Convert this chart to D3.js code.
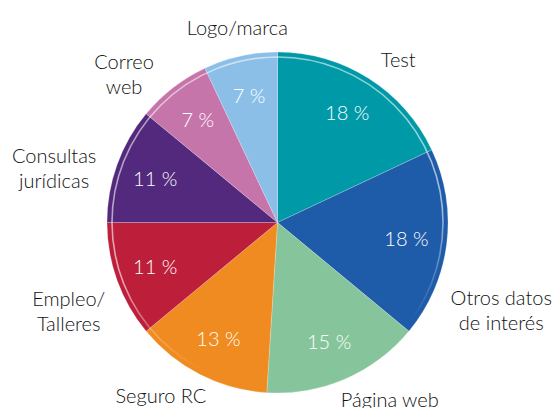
<!DOCTYPE html>
<html>
<head>
<meta charset="utf-8">
<script src="https://cdn.jsdelivr.net/npm/d3@7"></script>
<style>
  html, body { margin: 0; padding: 0; background: #fff; }
  svg { display: block; font-family: Lato, "Open Sans", sans-serif; }
</style>
</head>
<body>
<div id="chart"></div>
<script>
const categories = ["Test", "Otros datos\nde interés", "Página web", "Seguro RC", "Empleo/\nTalleres", "Consultas\njurídicas", "Correo\nweb", "Logo/marca"];
const values = [18, 18, 15, 13, 11, 11, 7, 7];
const colors = ["#0099a8", "#1e5ba9", "#86c59b", "#ef8b20", "#bd1f3a", "#53297d", "#c675ab", "#8cbfe7"];

// small angle tweaks (degrees) and gaps so outside labels sit where the designer put them
const labelShift = [4, 14, -9, 7, -3, -6, -8, 1];
const labelGap = [13, 13, 6, 5, 13, 13, 5, 13];

const width = 555;
const height = 408;
const cx = 277.5, cy = 222.5;
const radius = 170.5;

const svg = d3.select("#chart").append("svg")
    .attr("width", width)
    .attr("height", height);

const defs = svg.append("defs");
const grad = defs.append("linearGradient")
    .attr("id", "ringGrad")
    .attr("gradientUnits", "userSpaceOnUse")
    .attr("x1", cx - 20).attr("y1", cy - radius)
    .attr("x2", cx + 60).attr("y2", cy + radius);
grad.append("stop").attr("offset", 0).attr("stop-color", "#fff").attr("stop-opacity", 0.55);
grad.append("stop").attr("offset", 0.55).attr("stop-color", "#fff").attr("stop-opacity", 0.6);
grad.append("stop").attr("offset", 0.85).attr("stop-color", "#fff").attr("stop-opacity", 0);

const g = svg.append("g").attr("transform", `translate(${cx},${cy})`);

const pie = d3.pie().sort(null).value(d => d);
const arcs = pie(values);

const arc = d3.arc().innerRadius(0).outerRadius(radius);
const pctArc = d3.arc().innerRadius(130).outerRadius(130);

g.selectAll("path.slice")
    .data(arcs)
    .join("path")
    .attr("class", "slice")
    .attr("d", arc)
    .attr("fill", (d, i) => colors[i])
    .attr("stroke", "rgba(255,255,255,0.35)")
    .attr("stroke-width", 0.6);

// glossy inner ring
svg.append("circle")
    .attr("cx", cx).attr("cy", cy)
    .attr("r", radius - 5)
    .attr("fill", "none")
    .attr("stroke", "url(#ringGrad)")
    .attr("stroke-width", 1.6);

g.selectAll("text.pct")
    .data(arcs)
    .join("text")
    .attr("class", "pct")
    .attr("transform", d => `translate(${pctArc.centroid(d)})`)
    .attr("text-anchor", "middle")
    .attr("dy", "0.36em")
    .attr("fill", "#fff")
    .attr("font-size", 20)
    .attr("font-weight", 300)
    .text(d => d.value + " %");

// outside labels, pushed out until the text box clears the pie
const lineH = 25;
const labels = g.selectAll("text.cat")
    .data(arcs)
    .join("text")
    .attr("class", "cat")
    .attr("text-anchor", "middle")
    .attr("fill", "#111")
    .attr("font-size", 20)
    .attr("font-weight", 300);

labels.each(function (d, i) {
    const el = d3.select(this);
    const lines = categories[i].split("\n");
    lines.forEach((t, k) => {
        el.append("tspan").attr("x", 0).attr("dy", k === 0 ? 0 : lineH).text(t);
    });
    const box = this.getBBox();
    const hw = box.width / 2, hh = box.height / 2;
    const a = (d.startAngle + d.endAngle) / 2 + labelShift[i] * Math.PI / 180;
    let dist = radius;
    let px = 0, py = 0;
    for (; dist < radius + 200; dist += 0.5) {
        px = dist * Math.sin(a);
        py = -dist * Math.cos(a);
        const nx = Math.max(px - hw, Math.min(0, px + hw));
        const ny = Math.max(py - hh, Math.min(0, py + hh));
        if (Math.hypot(nx, ny) >= radius + labelGap[i]) break;
    }
    const offY = py - (box.y + hh);
    el.attr("transform", `translate(${px},${offY})`);
});
</script>
</body>
</html>
